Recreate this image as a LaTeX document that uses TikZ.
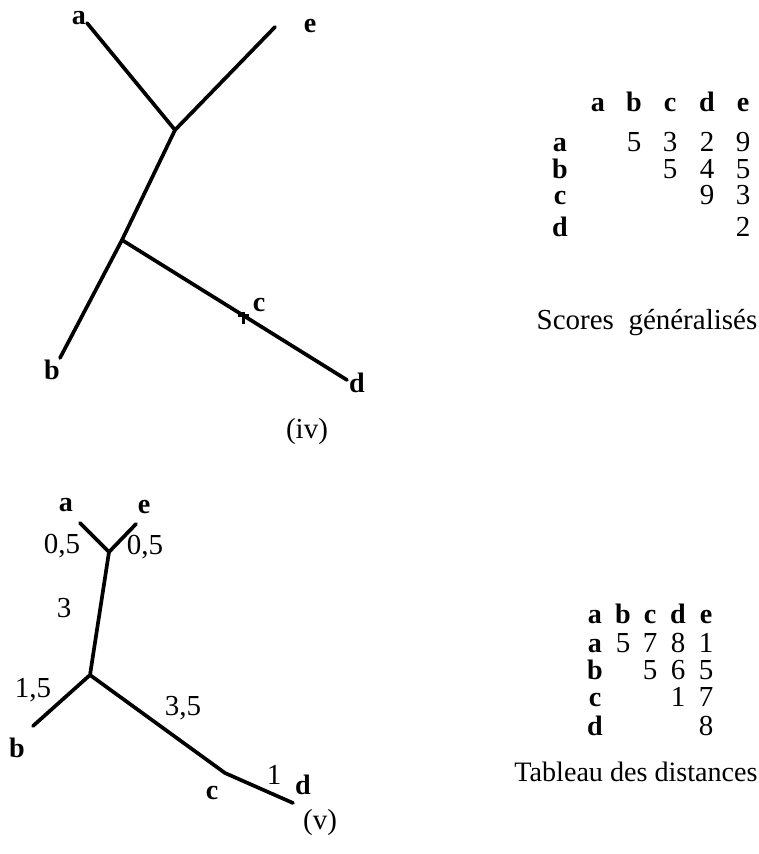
\documentclass[tikz,border=0pt]{standalone}
\usepackage{fontspec}
\setmainfont{Liberation Serif}
\usetikzlibrary{calc}
\tikzset{
  branch/.style={line width=2.1pt,line cap=round},
  crossmark/.style={line width=1.3pt},
  leaf/.style={font=\fontsize{16}{18}\selectfont\bfseries,inner sep=1pt},
  blen/.style={font=\fontsize{16.5}{18}\selectfont,inner sep=1pt},
  val/.style={font=\fontsize{16.5}{18}\selectfont,inner sep=1pt,anchor=base},
  capt/.style={font=\fontsize{16.5}{20}\selectfont,inner sep=1pt}
}

\begin{document}
\begin{tikzpicture}[x=0.02cm,y=-0.02cm]
  \useasboundingbox (0,0) rectangle (758,854);

  % tree (iv)
  \coordinate (a4) at (87,23);
  \coordinate (e4) at (275,27);
  \coordinate (u4) at (175,130);
  \coordinate (w4) at (122,240);
  \coordinate (b4) at (60,358);
  \coordinate (d4) at (347,380);
  \coordinate (c4) at ($(w4)!0.54!(d4)$);
  \draw[branch] (a4) -- (u4) -- (e4);
  \draw[branch] (u4) -- (w4) -- (b4);
  \draw[branch] (w4) -- (d4);
  \draw[crossmark] (c4) +(-6,0) -- +(5,0) (c4) +(0,-4) -- +(0,8);
  \node[leaf] (la4) at (79,18) {a};
  \node[leaf] (le4) at (310,26) {e};
  \node[leaf] (lb4) at (52,370) {b};
  \node[leaf] (lc4) at (259,305) {c};
  \node[leaf] (ld4) at (357,383) {d};

  % scores table
  \foreach \c/\x in {a/598,b/634,c/670,d/707,e/743}
    \node[leaf,anchor=base] (sc\c) at (\x,112) {\c};
  \foreach \r/\y in {a/152,b/179,c/205,d/237}
    \node[leaf,anchor=base] (sr\r) at (560,\y) {\r};
  \foreach \r/\c/\v in {a/b/5,a/c/3,a/d/2,a/e/9,b/c/5,b/d/4,b/e/5,c/d/9,c/e/3,d/e/2}
    \node[val] at (sc\c.base |- sr\r.base) {\v};
  \node[capt] (cap4) at (647,323) {Scores\ \ généralisés};
  \node[capt] (num4) at (307,432) {(iv)};

  % tree (v)
  \coordinate (a5) at (80,523);
  \coordinate (e5) at (136,524);
  \coordinate (u5) at (109,552);
  \coordinate (w5) at (90,675);
  \coordinate (b5) at (33,726);
  \coordinate (c5) at (225,773);
  \coordinate (d5) at (293,803);
  \draw[branch] (a5) -- (u5) -- (e5);
  \draw[branch] (u5) -- (w5) -- (b5);
  \draw[branch] (w5) -- (c5) -- (d5);
  \node[leaf] (la5) at (66,505) {a};
  \node[leaf] (le5) at (144,507) {e};
  \node[leaf] (lb5) at (17,748) {b};
  \node[leaf] (lc5) at (212,793) {c};
  \node[leaf] (ld5) at (303,785) {d};
  \node[blen] (bae) at (62,546) {0,5};
  \node[blen] (bee) at (145,547) {0,5};
  \node[blen] (buw) at (64,608) {3};
  \node[blen] (bbb) at (33,690) {1,5};
  \node[blen] (bcc) at (183,708) {3,5};
  \node[blen] (bdd) at (274,775) {1};

  % distance table
  \foreach \c/\x in {a/595,b/623,c/650,d/678,e/706}
    \node[leaf,anchor=base] (dc\c) at (\x,623) {\c};
  \foreach \r/\y in {a/652,b/679,c/706,d/735}
    \node[leaf,anchor=base] (dr\r) at (595,\y) {\r};
  \foreach \r/\c/\v in {a/b/5,a/c/7,a/d/8,a/e/1,b/c/5,b/d/6,b/e/5,c/d/1,c/e/7,d/e/8}
    \node[val] at (dc\c.base |- dr\r.base) {\v};
  \node[capt,font=\fontsize{16}{20}\selectfont] (cap5) at (636,772) {Tableau des distances};
  \node[capt] (num5) at (320,823) {(v)};
\end{tikzpicture}
\end{document}
